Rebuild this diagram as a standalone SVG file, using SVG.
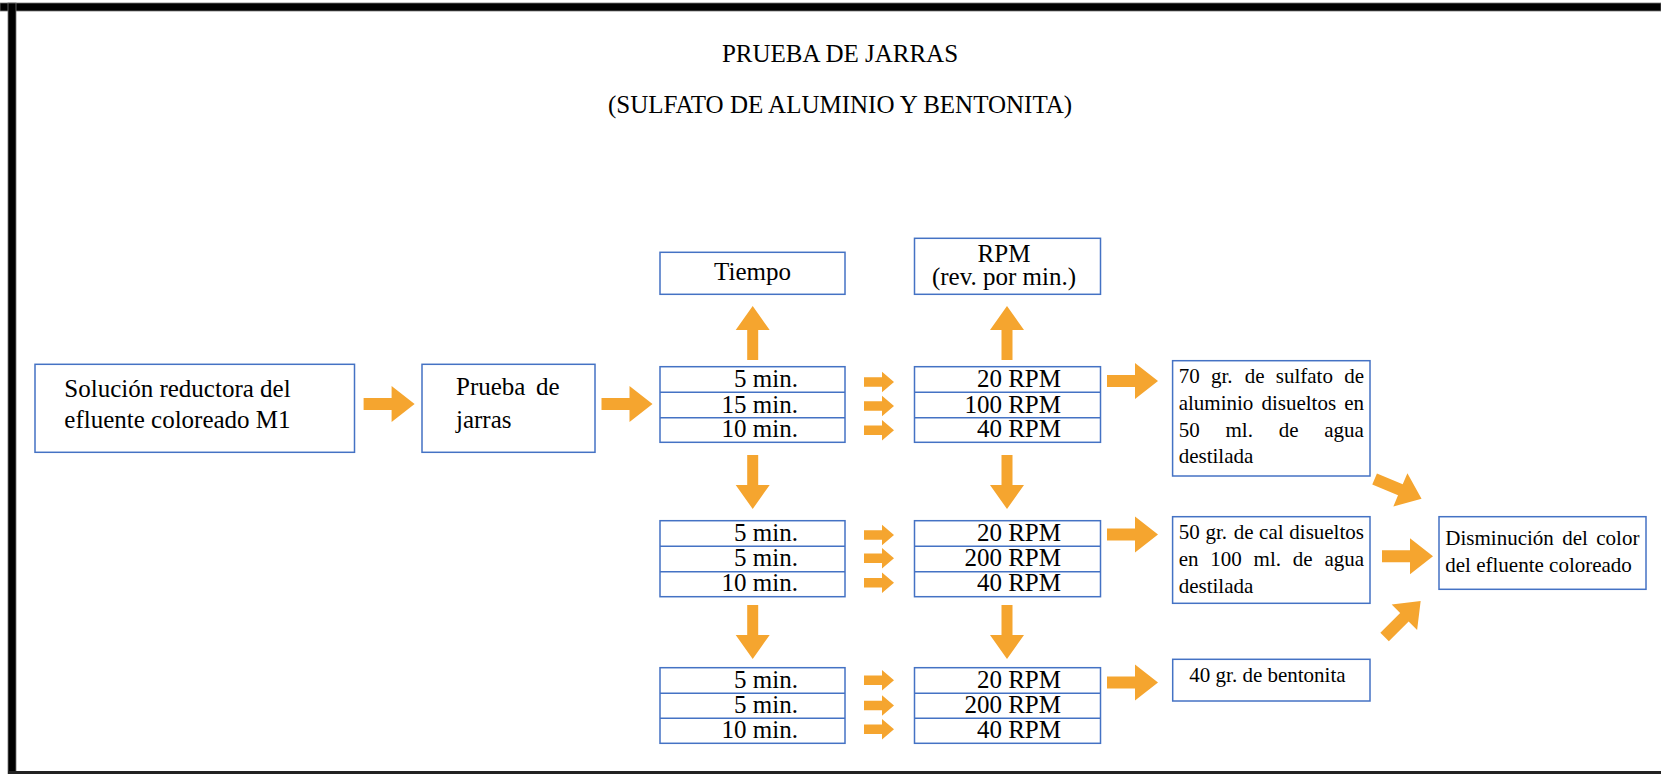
<svg xmlns="http://www.w3.org/2000/svg" width="1661" height="774" viewBox="0 0 1661 774">
<style>
  .box { fill: #ffffff; stroke: #4472C4; stroke-width: 1.5; }
  .ln { stroke: #4472C4; stroke-width: 1.5; }
  .t25 { font-family: "Liberation Serif", "Times New Roman", serif; font-size: 25px; fill: #000; }
  .t21 { font-family: "Liberation Serif", "Times New Roman", serif; font-size: 21px; fill: #000; }
  .arr { fill: #F5A52F; }
</style>
<defs>
  <path id="bigArrow" class="arr" d="M0,-6 H28 V-18 L51,0 L28,18 V6 H0 Z"/>
  <path id="vArrow" class="arr" d="M-5.5,0 V-30 H-17 L0,-54 L17,-30 H5.5 V0 Z"/>
  <path id="smallArrow" class="arr" d="M0,-4.7 H18 V-10.3 L30,0 L18,10.3 V4.7 H0 Z"/>
</defs>
<rect x="0" y="0" width="1661" height="774" fill="#ffffff"/>
<g id="frame">
  <rect x="0" y="3" width="1661" height="8" fill="#000" stroke="#777" stroke-width="0.8"/>
  <rect x="8" y="3" width="8" height="771" fill="#000" stroke="#777" stroke-width="0.8"/>
  <rect x="8" y="771" width="1653" height="3" fill="#222"/>
</g>
<g id="title">
  <text class="t25" x="840" y="61.5" text-anchor="middle">PRUEBA DE JARRAS</text>
  <text class="t25" x="840" y="113" text-anchor="middle">(SULFATO DE ALUMINIO Y BENTONITA)</text>
</g>
<g id="n-solucion">
  <rect class="box" x="35" y="364.3" width="319.5" height="88"/>
  <text class="t25" x="64.3" y="396.7">Solución reductora del</text>
  <text class="t25" x="64.3" y="428.3">efluente coloreado M1</text>
</g>
<g id="n-prueba">
  <rect class="box" x="422" y="364.3" width="173" height="88"/>
  <text class="t25" x="456" y="395">Prueba<tspan x="536">de</tspan></text>
  <text class="t25" x="456" y="428">jarras</text>
</g>
<g id="n-tiempo">
  <rect class="box" x="660" y="252.3" width="185" height="42"/>
  <text class="t25" x="752.5" y="280" text-anchor="middle">Tiempo</text>
</g>
<g id="n-rpm">
  <rect class="box" x="914.5" y="238.3" width="186" height="56"/>
  <text class="t25" x="1004" y="261.5" text-anchor="middle">RPM</text>
  <text class="t25" x="1004" y="284.5" text-anchor="middle">(rev. por min.)</text>
</g>
<g id="n-tiempo-1">
  <rect class="box" x="660" y="366.7" width="185" height="75.6"/>
  <line class="ln" x1="660" y1="392.3" x2="845" y2="392.3"/>
  <line class="ln" x1="660" y1="417.7" x2="845" y2="417.7"/>
  <text class="t25" x="798" y="386.7" text-anchor="end">5 min.</text>
  <text class="t25" x="798" y="412.7" text-anchor="end">15 min.</text>
  <text class="t25" x="798" y="437.3" text-anchor="end">10 min.</text>
</g>
<g id="n-rpm-1">
  <rect class="box" x="914.5" y="366.7" width="186" height="75.6"/>
  <line class="ln" x1="914.5" y1="392.3" x2="1100.5" y2="392.3"/>
  <line class="ln" x1="914.5" y1="417.7" x2="1100.5" y2="417.7"/>
  <text class="t25" x="1061" y="386.7" text-anchor="end">20 RPM</text>
  <text class="t25" x="1061" y="412.7" text-anchor="end">100 RPM</text>
  <text class="t25" x="1061" y="437.3" text-anchor="end">40 RPM</text>
</g>
<g id="n-tiempo-2">
  <rect class="box" x="660" y="520.7" width="185" height="76"/>
  <line class="ln" x1="660" y1="546.3" x2="845" y2="546.3"/>
  <line class="ln" x1="660" y1="571.7" x2="845" y2="571.7"/>
  <text class="t25" x="798" y="540.7" text-anchor="end">5 min.</text>
  <text class="t25" x="798" y="566" text-anchor="end">5 min.</text>
  <text class="t25" x="798" y="591" text-anchor="end">10 min.</text>
</g>
<g id="n-rpm-2">
  <rect class="box" x="914.5" y="520.7" width="186" height="76"/>
  <line class="ln" x1="914.5" y1="546.3" x2="1100.5" y2="546.3"/>
  <line class="ln" x1="914.5" y1="571.7" x2="1100.5" y2="571.7"/>
  <text class="t25" x="1061" y="540.7" text-anchor="end">20 RPM</text>
  <text class="t25" x="1061" y="566" text-anchor="end">200 RPM</text>
  <text class="t25" x="1061" y="591" text-anchor="end">40 RPM</text>
</g>
<g id="n-tiempo-3">
  <rect class="box" x="660" y="667.7" width="185" height="75.6"/>
  <line class="ln" x1="660" y1="693.3" x2="845" y2="693.3"/>
  <line class="ln" x1="660" y1="718.3" x2="845" y2="718.3"/>
  <text class="t25" x="798" y="687.7" text-anchor="end">5 min.</text>
  <text class="t25" x="798" y="713.3" text-anchor="end">5 min.</text>
  <text class="t25" x="798" y="737.7" text-anchor="end">10 min.</text>
</g>
<g id="n-rpm-3">
  <rect class="box" x="914.5" y="667.7" width="186" height="75.6"/>
  <line class="ln" x1="914.5" y1="693.3" x2="1100.5" y2="693.3"/>
  <line class="ln" x1="914.5" y1="718.3" x2="1100.5" y2="718.3"/>
  <text class="t25" x="1061" y="687.7" text-anchor="end">20 RPM</text>
  <text class="t25" x="1061" y="713.3" text-anchor="end">200 RPM</text>
  <text class="t25" x="1061" y="737.7" text-anchor="end">40 RPM</text>
</g>
<g id="n-sulfato">
  <rect class="box" x="1172.6" y="360.7" width="197.4" height="115.3"/>
  <text class="t21" y="383.3"><tspan x="1178.7">70</tspan><tspan x="1210.9">gr.</tspan><tspan x="1244.8">de</tspan><tspan x="1275.8">sulfato</tspan><tspan x="1344.2">de</tspan></text>
  <text class="t21" y="410"><tspan x="1178.7">aluminio</tspan><tspan x="1261.4">disueltos</tspan><tspan x="1344.2">en</tspan></text>
  <text class="t21" y="436.7"><tspan x="1178.7">50</tspan><tspan x="1225.5">ml.</tspan><tspan x="1278.7">de</tspan><tspan x="1324.3">agua</tspan></text>
  <text class="t21" x="1178.7" y="463.3">destilada</text>
</g>
<g id="n-cal">
  <rect class="box" x="1172.6" y="516.7" width="197.4" height="86.6"/>
  <text class="t21" y="539.3"><tspan x="1178.7">50</tspan><tspan x="1205.4">gr.</tspan><tspan x="1233.7">de</tspan><tspan x="1259.1">cal</tspan><tspan x="1289.3">disueltos</tspan></text>
  <text class="t21" y="566"><tspan x="1178.7">en</tspan><tspan x="1210.3">100</tspan><tspan x="1253.6">ml.</tspan><tspan x="1292.8">de</tspan><tspan x="1324.4">agua</tspan></text>
  <text class="t21" x="1178.7" y="592.7">destilada</text>
</g>
<g id="n-bentonita">
  <rect class="box" x="1172.7" y="659.3" width="197.3" height="41.7"/>
  <text class="t21" x="1189.3" y="681.7">40 gr. de bentonita</text>
</g>
<g id="n-disminucion">
  <rect class="box" x="1439" y="516.7" width="207" height="72.6"/>
  <text class="t21" y="545"><tspan x="1445.3">Disminución</tspan><tspan x="1562.2">del</tspan><tspan x="1596.3">color</tspan></text>
  <text class="t21" x="1445.3" y="571.7">del efluente coloreado</text>
</g>
<g id="connectors">
  <use href="#bigArrow" transform="translate(363.6,404)"/>
  <use href="#bigArrow" transform="translate(601.5,404)"/>
  <use href="#vArrow" transform="translate(752.7,360)"/>
  <use href="#vArrow" transform="translate(1007,360)"/>
  <use href="#vArrow" transform="translate(752.7,455) rotate(180)"/>
  <use href="#vArrow" transform="translate(1007,455) rotate(180)"/>
  <use href="#vArrow" transform="translate(752.7,605) rotate(180)"/>
  <use href="#vArrow" transform="translate(1007,605) rotate(180)"/>
  <use href="#smallArrow" transform="translate(864,382)"/>
  <use href="#smallArrow" transform="translate(864,406)"/>
  <use href="#smallArrow" transform="translate(864,430.3)"/>
  <use href="#smallArrow" transform="translate(864,535)"/>
  <use href="#smallArrow" transform="translate(864,558.3)"/>
  <use href="#smallArrow" transform="translate(864,582.7)"/>
  <use href="#smallArrow" transform="translate(864,680.3)"/>
  <use href="#smallArrow" transform="translate(864,705.5)"/>
  <use href="#smallArrow" transform="translate(864,729.3)"/>
  <use href="#bigArrow" transform="translate(1107,381)"/>
  <use href="#bigArrow" transform="translate(1107,534.5)"/>
  <use href="#bigArrow" transform="translate(1107,682.5)"/>
  <use href="#bigArrow" transform="translate(1382,556.3)"/>
  <use href="#bigArrow" transform="translate(1374.6,478.9) rotate(23)"/>
  <use href="#bigArrow" transform="translate(1384.6,637) rotate(-45)"/>
</g>
</svg>
